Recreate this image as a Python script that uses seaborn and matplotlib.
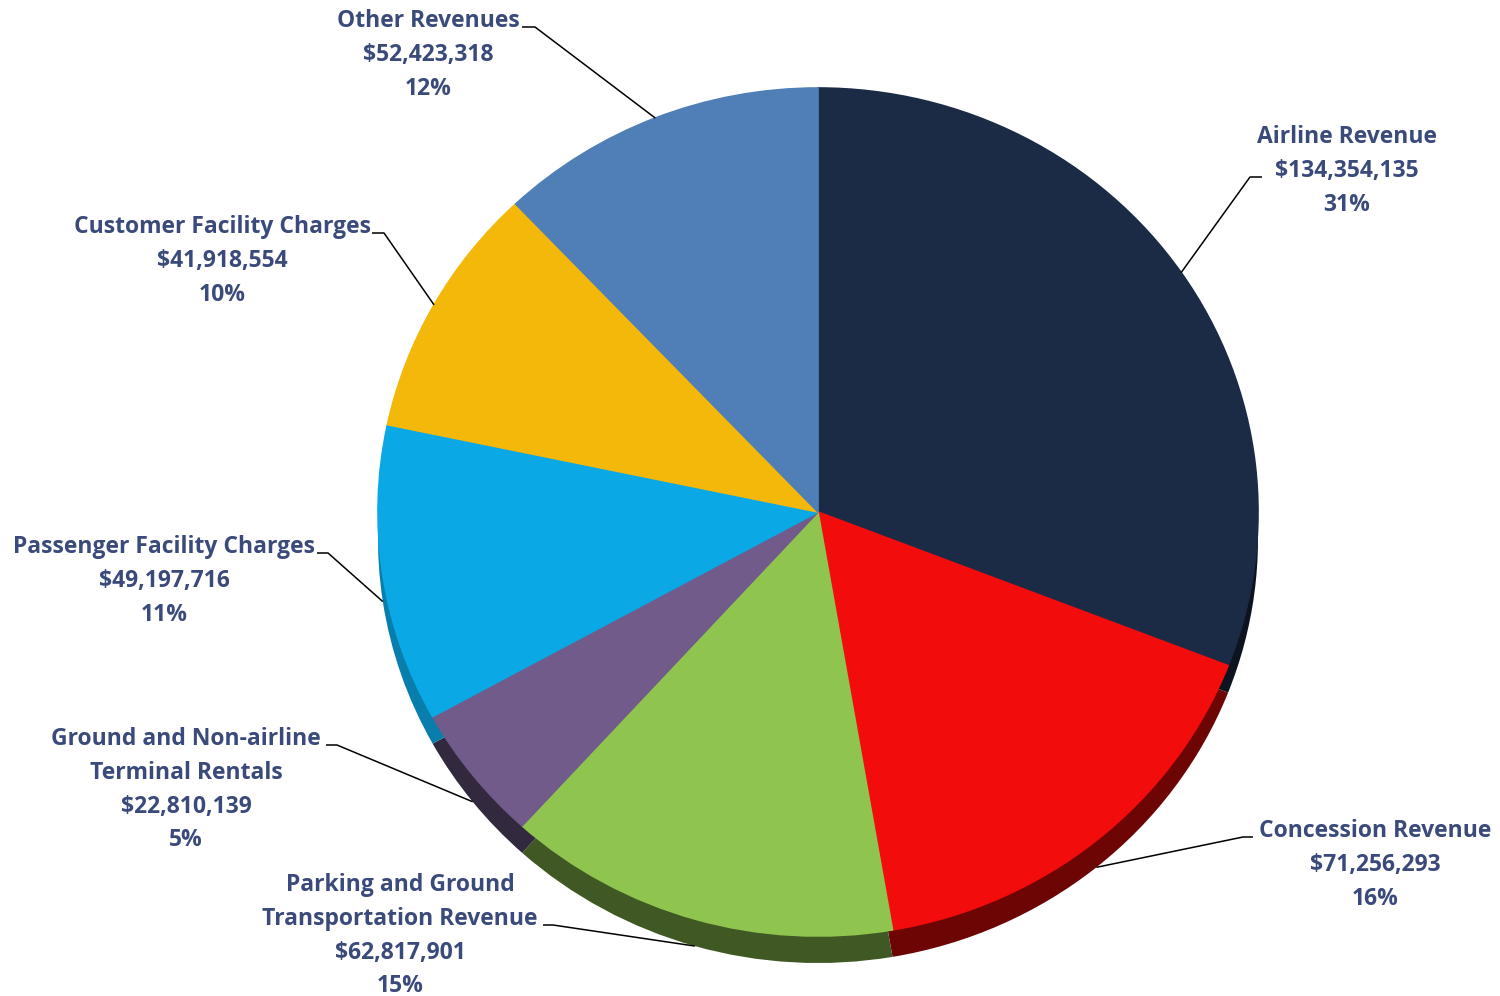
import numpy as np
import matplotlib
matplotlib.use("Agg")
import matplotlib.pyplot as plt
import matplotlib.colors as mcolors
import seaborn as sns

# Revenue categories, in clockwise order from 12 o'clock
categories = [
    "Airline Revenue",
    "Concession Revenue",
    "Parking and Ground\nTransportation Revenue",
    "Ground and Non-airline\nTerminal Rentals",
    "Passenger Facility Charges",
    "Customer Facility Charges",
    "Other Revenues",
]
amounts = [134354135, 71256293, 62817901, 22810139, 49197716, 41918554, 52423318]
percents = [31, 16, 15, 5, 11, 10, 12]
colors = ["#1c2b45", "#f20c0c", "#8fc54f", "#705b8a", "#0ba8e6", "#f3b80a", "#507fb7"]

sns.set_theme(style="white")
plt.rcParams["font.family"] = ["Open Sans", "DejaVu Sans"]

W, H, DPI = 1500, 996, 100
fig = plt.figure(figsize=(W / DPI, H / DPI), dpi=DPI)

# Pie geometry (pixels): centre, radii of the top face, thickness of the rim
cx, cy, rx, ry, depth = 818, 512, 440, 424, 27
xpad, ytop, ybot = 1.05, 1.05, 1.2
pax = fig.add_axes([
    (cx - xpad * rx) / W,
    1 - (cy + ybot * ry) / H,
    2 * xpad * rx / W,
    (ytop + ybot) * ry / H,
])

def darken(c, f):
    r, g, b = mcolors.to_rgb(c)
    return (r * f, g * f, b * f)

rim_colors = [darken(c, 0.45) for c in colors]
rim_colors[4] = darken(colors[4], 0.75)

# Rim: the same pie, darker and shifted down
pax.pie(amounts, colors=rim_colors, startangle=90, counterclock=False,
        center=(0, -depth / ry), radius=1,
        wedgeprops=dict(linewidth=0))
wedges, _ = pax.pie(amounts, colors=colors, startangle=90, counterclock=False,
                    center=(0, 0), radius=1,
                    wedgeprops=dict(linewidth=1.2))
for w, c in zip(wedges, colors):
    w.set_edgecolor(c)
    w.set_joinstyle("round")
pax.set_xlim(-xpad, xpad)
pax.set_ylim(-ybot, ytop)
pax.set_aspect("auto")
pax.axis("off")

# Overlay axes in pixel coordinates for labels and leader lines
ax = fig.add_axes([0, 0, 1, 1], zorder=5)
ax.set_xlim(0, W)
ax.set_ylim(H, 0)
ax.axis("off")

# Label placement: text centre x, first baseline y, hook start x, hook end x, hook y
label_layout = [
    (1347, 143, 1262, 1250, 177),
    (1375, 837, 1253, 1243, 837),
    (400, 891, 543, 553, 925),
    (186, 745, 326, 337, 745),
    (164, 553, 317, 328, 553),
    (222, 233, 372, 384, 233),
    (428, 27, 522, 535, 27),
]

text_color = "#394a7b"
line_gap = 33.8
total = sum(amounts)
angle = 90.0
for name, val, pct, (tx, ty, hx0, hx1, hy) in zip(categories, amounts, percents, label_layout):
    span = 360.0 * val / total
    mid = np.deg2rad(angle - span / 2)
    angle -= span
    px = cx + rx * np.cos(mid)
    py = cy - ry * np.sin(mid)
    if np.sin(mid) < 0:
        py += depth
    lines = name.split("\n") + [f"${val:,.0f}", f"{pct}%"]
    for i, s in enumerate(lines):
        ax.text(tx, ty + i * line_gap, s, ha="center", va="baseline",
                fontsize=16.5, fontweight="bold", color=text_color)
    ax.plot([hx0, hx1, px], [hy, hy, py], color="black", lw=1.1,
            solid_capstyle="butt")

fig.savefig("out.png", dpi=DPI, facecolor="white")
